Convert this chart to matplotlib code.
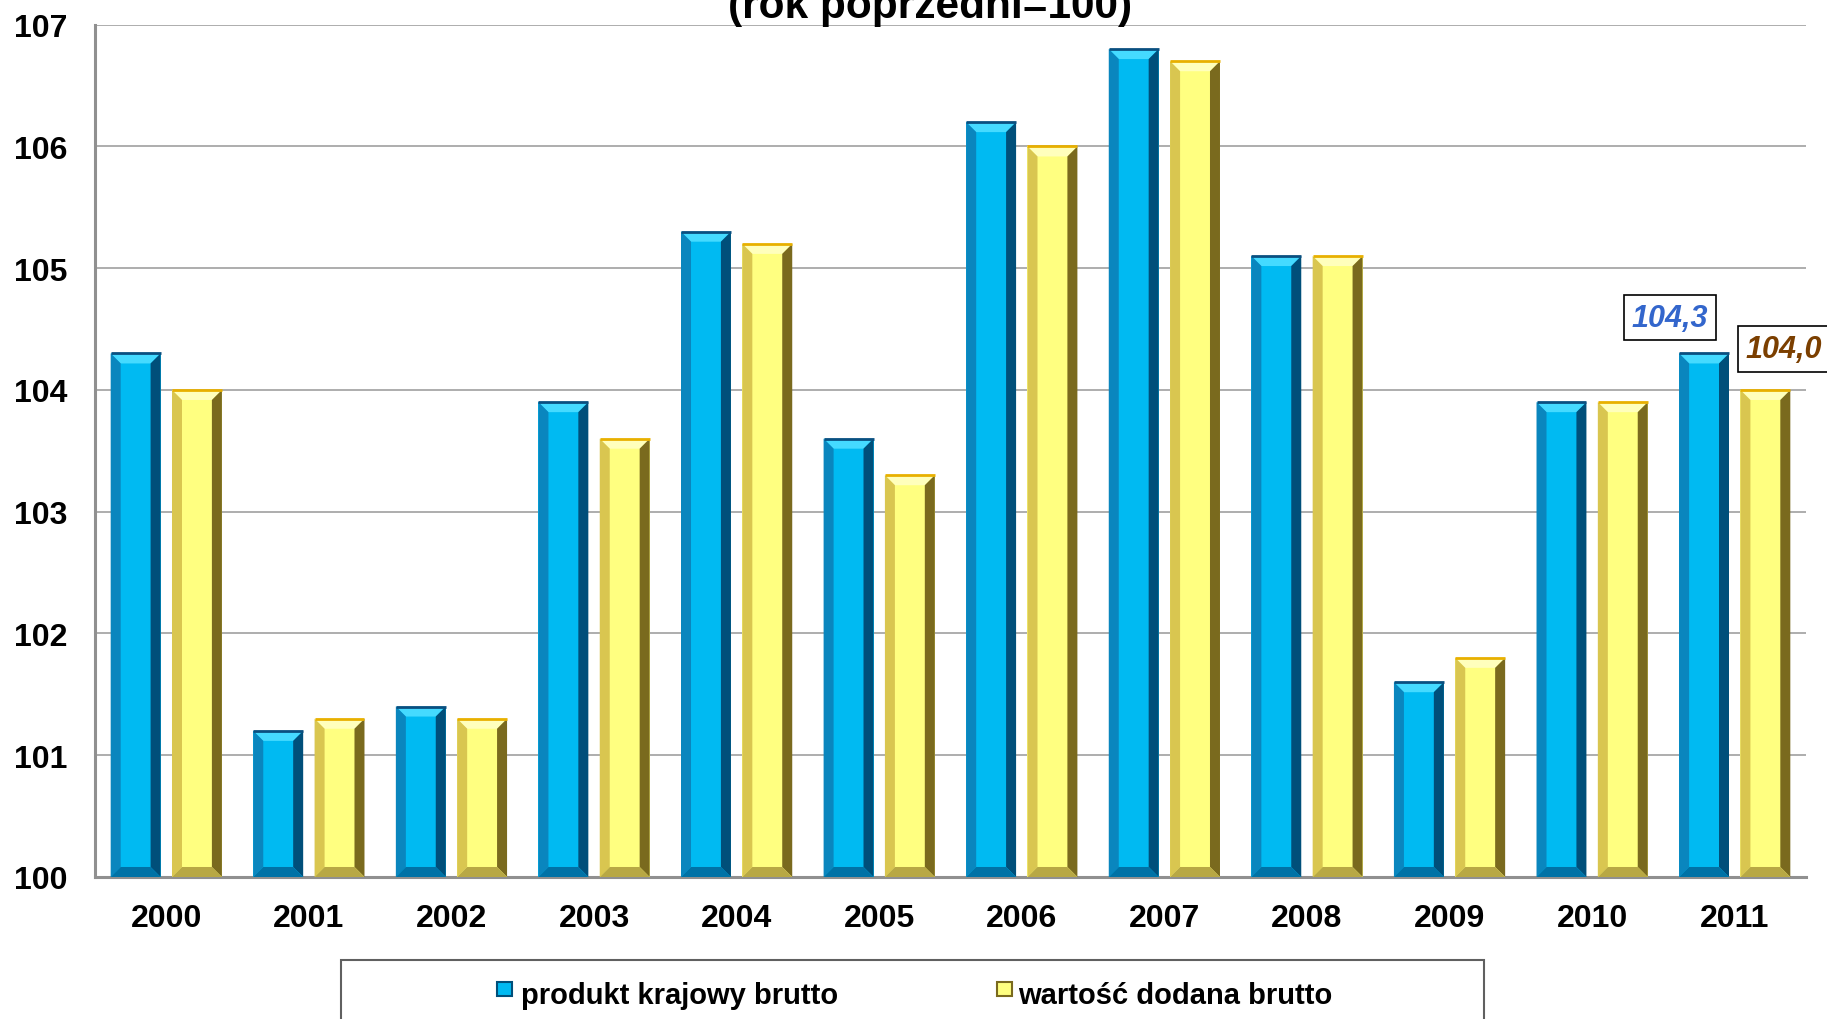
import matplotlib
matplotlib.use("Agg")
import matplotlib.pyplot as plt
from matplotlib.patches import Polygon, Rectangle
import numpy as np

plt.rcParams['font.family'] = ['Liberation Sans', 'DejaVu Sans']

years = ['2000', '2001', '2002', '2003', '2004', '2005', '2006', '2007', '2008', '2009', '2010', '2011']
pkb = [104.3, 101.2, 101.4, 103.9, 105.3, 103.6, 106.2, 106.8, 105.1, 101.6, 103.9, 104.3]
wdb = [104.0, 101.3, 101.3, 103.6, 105.2, 103.3, 106.0, 106.7, 105.1, 101.8, 103.9, 104.0]
series_names = ['produkt krajowy brutto', 'wartość dodana brutto']
yticks = [100, 101, 102, 103, 104, 105, 106, 107]
title = '(rok poprzedni=100)'
label_pkb = '104,3'
label_wdb = '104,0'

W, H = 1827, 1020
fig = plt.figure(figsize=(W / 100, H / 100), dpi=100)
ax = fig.add_axes([95 / W, 1 - 878 / H, (1806 - 95) / W, (878 - 25.7) / H])

x = np.arange(len(years))
bw = 0.35
off = 0.215

styles = [
    dict(main='#00BAF2', top='#45DAFF', left='#0A86BE', right='#004F7A', bottom='#0072A6', edge='#0A4F80'),
    dict(main='#FFFF80', top='#FFFFBC', left='#D9C650', right='#7A6A1E', bottom='#B8A844', edge='#E8B000'),
]

ax.set_xlim(-0.5, len(years) - 0.5)
ax.set_ylim(100, 107)

bars_all = []
for vals, sign, st in [(pkb, -1, styles[0]), (wdb, 1, styles[1])]:
    bars = ax.bar(x + sign * off, np.array(vals) - 100, bottom=100, width=bw,
                  color=st['main'], edgecolor='none', zorder=3)
    bars_all.append((bars, st))

# bevel sizes in data units (~10 px)
bx = 10 / 142.6
by = 10 / 121.7
for bars, st in bars_all:
    for p in bars:
        x0 = p.get_x(); x1 = x0 + p.get_width()
        y0 = p.get_y(); y1 = y0 + p.get_height()
        polys = [
            ([(x0, y1), (x1, y1), (x1 - bx, y1 - by), (x0 + bx, y1 - by)], st['top']),
            ([(x0, y0), (x0, y1), (x0 + bx, y1 - by), (x0 + bx, y0 + by)], st['left']),
            ([(x1, y0), (x1, y1), (x1 - bx, y1 - by), (x1 - bx, y0 + by)], st['right']),
            ([(x0, y0), (x1, y0), (x1 - bx, y0 + by), (x0 + bx, y0 + by)], st['bottom']),
        ]
        for pts, c in polys:
            ax.add_patch(Polygon(pts, closed=True, facecolor=c, edgecolor='none', zorder=4))
        ax.plot([x0, x1], [y1, y1], color=st['edge'], lw=2, zorder=5, solid_capstyle='butt')

ax.set_yticks(yticks)
ax.set_yticklabels([str(t) for t in yticks], fontsize=23, fontweight='bold')
ax.set_xticks(x)
ax.set_xticklabels(years, fontsize=23, fontweight='bold')
ax.tick_params(axis='both', length=0)
ax.tick_params(axis='y', pad=20)
ax.tick_params(axis='x', pad=19)
ax.grid(axis='y', color='#A0A0A0', lw=1.2, zorder=0)
ax.set_axisbelow(True)
ax.spines['right'].set_visible(False)
ax.spines['top'].set_visible(False)
ax.spines['left'].set_color('#909090')
ax.spines['left'].set_linewidth(2.2)
ax.spines['bottom'].set_color('#909090')
ax.spines['bottom'].set_linewidth(2.2)

# annotations for 2011
ax.annotate(label_pkb, xy=(x[-1] - off, pkb[-1]), xytext=(-24.5, 25.7), textcoords='offset points',
            ha='center', va='center', fontsize=22, fontweight='bold', style='italic', color='#3366CC',
            bbox=dict(boxstyle='square,pad=0.25', fc='white', ec='black', lw=1.2),
            annotation_clip=False, zorder=6)
ax.annotate(label_wdb, xy=(x[-1] + off, wdb[-1]), xytext=(13.5, 29.5), textcoords='offset points',
            ha='center', va='center', fontsize=22, fontweight='bold', style='italic', color='#7B3F00',
            bbox=dict(boxstyle='square,pad=0.25', fc='white', ec='black', lw=1.2),
            annotation_clip=False, zorder=6)

# title (partially cut at top like the reference)
fig.text(930 / W, 1 - 18 / H, title, ha='center', va='baseline', fontsize=30.5, fontweight='bold')

# legend box
fig.patches.append(Rectangle((341 / W, 1 - 1030 / H), (1484 - 341) / W, (1030 - 961) / H,
                             transform=fig.transFigure, fc='white', ec='#606060', lw=1.5))
leg_items = [(497, 521, styles[0], series_names[0]), (997, 1018, styles[1], series_names[1])]
for sx, tx, st, name in leg_items:
    fig.patches.append(Rectangle((sx / W, 1 - 997 / H), 15 / W, 14 / H, transform=fig.transFigure,
                                 fc=st['main'], ec=st['right'], lw=1.5))
    fig.text(tx / W, 1 - 996 / H, name, ha='left', va='center', fontsize=21, fontweight='bold')

fig.savefig('out.png', dpi=100)
